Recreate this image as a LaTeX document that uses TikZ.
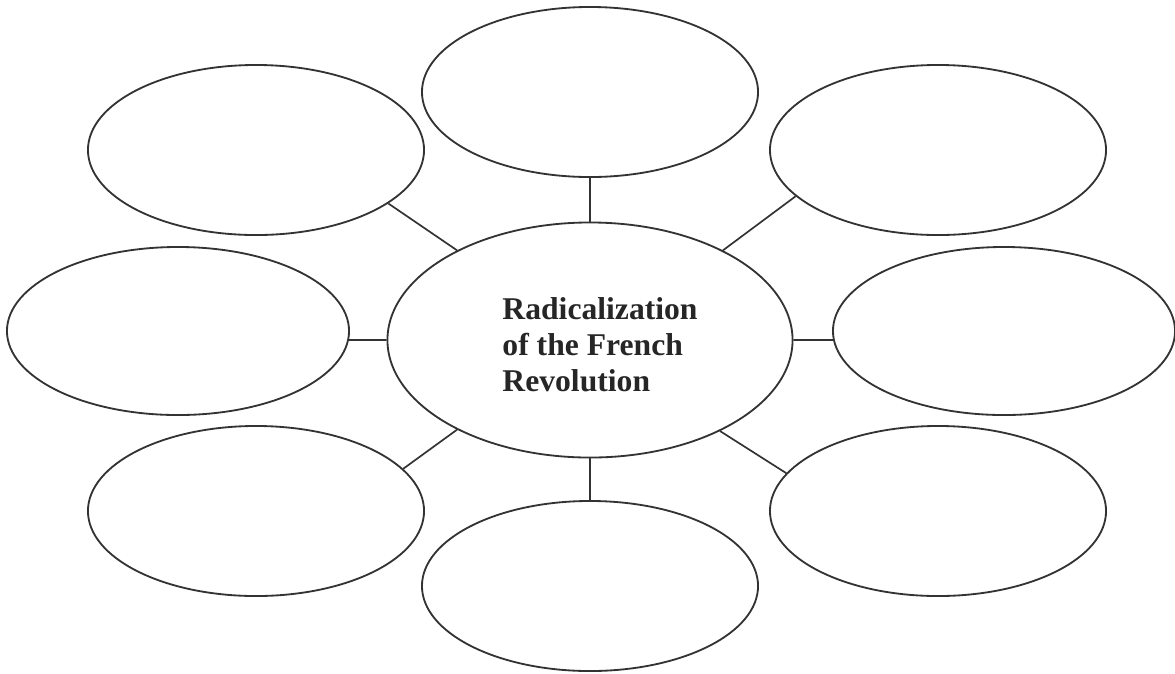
\documentclass[tikz,border=0pt]{standalone}
\usepackage{fontspec}
\setmainfont{Liberation Serif}
\usetikzlibrary{shapes.geometric}
\begin{document}
\begin{tikzpicture}[x=0.025cm, y=-0.025cm]

	\def\bubblew{8.4cm}
	\def\bubbleh{4.25cm}

	% Colours
	\colorlet{inkcolor}{black!80}

	% Styles
	\tikzstyle{bubble}=[draw=inkcolor, line width=1.3pt, ellipse, inner sep=0pt, minimum width=\bubblew, minimum height=\bubbleh]
	\tikzstyle{hub}=[bubble, minimum width=10.125cm, minimum height=5.875cm]
	\tikzstyle{spoke}=[draw=inkcolor, line width=1.2pt]

	\useasboundingbox (0,0) rectangle (1175,673);

	% Centre
	\node[hub] (c) at (590,340) {};
	\node[align=left, text=black!85, font=\fontsize{22.5}{25.6}\selectfont\bfseries] (ctitle) at (600,345)
		{Radicalization\\of the French\\Revolution};

	% Outer bubbles
	\node[bubble] (tp) at (590,92) {};
	\node[bubble] (tl) at (256,150) {};
	\node[bubble] (tr) at (938,150) {};
	\node[bubble, minimum width=8.55cm, minimum height=4.2cm] (lf) at (178,331) {};
	\node[bubble, minimum width=8.55cm, minimum height=4.2cm] (rt) at (1004,331) {};
	\node[bubble] (bl) at (256,511) {};
	\node[bubble] (bt) at (590,586) {};
	\node[bubble] (br) at (938,511) {};

	% Spokes
	\draw[spoke] (c.north) -- (tp.south);
	\draw[spoke] (c.146) -- (tl.-22);
	\draw[spoke] (c.34) -- (tr.198);
	\draw[spoke] (c.west) -- (lf.-3);
	\draw[spoke] (c.east) -- (rt.183);
	\draw[spoke] (c.214) -- (bl.16);
	\draw[spoke] (c.south) -- (bt.north);
	\draw[spoke] (c.-35) -- (br.166);

\end{tikzpicture}
\end{document}
